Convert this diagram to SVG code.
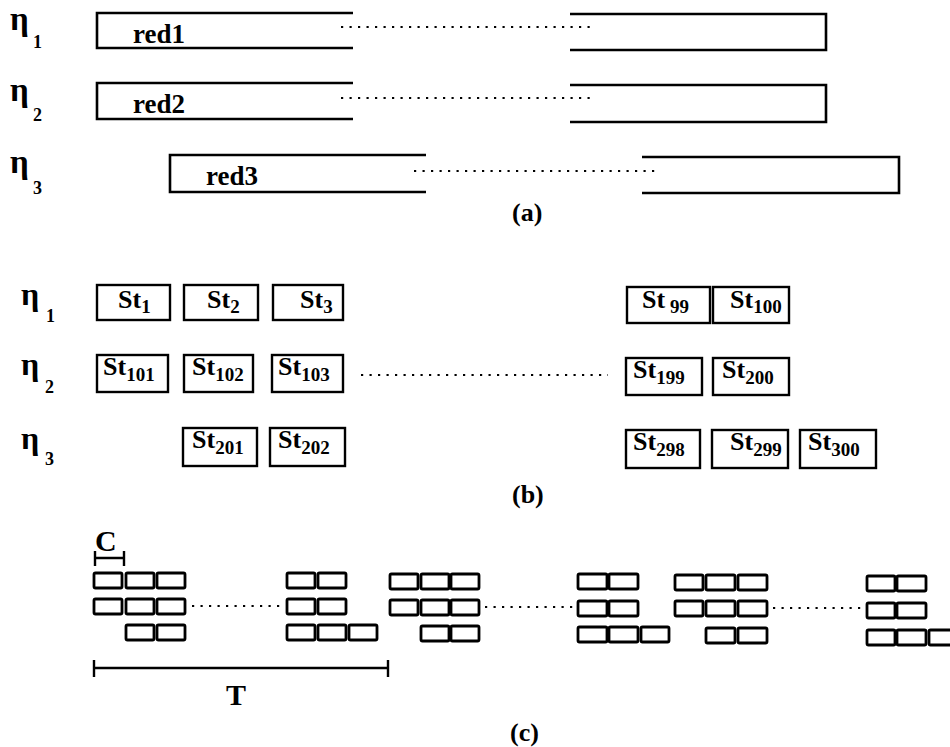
<svg xmlns="http://www.w3.org/2000/svg" width="950" height="747" viewBox="0 0 950 747">
<style>
text{font-family:"Liberation Serif","Times New Roman",serif;fill:#000;font-weight:bold}
.eta{font-size:33px}
.etab{font-size:32px}
.sub{font-size:18px}
.red{font-size:27px}
.st{font-size:26px}
.ss{font-size:19px}
.lbl{font-size:26px}
.big{font-size:30px}
.br{fill:none;stroke:#000;stroke-width:2.6}
.bx{fill:#fff;stroke:#000;stroke-width:2.4}
.cb{fill:#fff;stroke:#000;stroke-width:2.8}
.dot{fill:none;stroke:#000;stroke-width:2.2;stroke-dasharray:2.2 6.3}
.ln{fill:none;stroke:#000;stroke-width:2.4}
</style>
<rect width="950" height="747" fill="#fff"/>

<!-- (a) -->
<g id="a-labels">
<text class="eta" x="10" y="30">η</text><text class="sub" x="33" y="48">1</text>
<text class="eta" x="10" y="101">η</text><text class="sub" x="33" y="121">2</text>
<text class="eta" x="10" y="173">η</text><text class="sub" x="33" y="194">3</text>
</g>
<g id="red1-left"><path class="br" d="M353,13 H97 V48 H353"/><text class="red" x="133" y="43">red1</text></g>
<g id="red1-right"><path class="br" d="M570,14 H826 V50 H570"/></g>
<g id="red2-left"><path class="br" d="M353,83 H97 V119 H353"/><text class="red" x="133" y="113">red2</text></g>
<g id="red2-right"><path class="br" d="M570,85 H826 V122 H570"/></g>
<g id="red3-left"><path class="br" d="M426,155 H170 V192 H426"/><text class="red" x="206" y="185">red3</text></g>
<g id="red3-right"><path class="br" d="M642,157 H899 V193 H642"/></g>
<text class="lbl" x="512" y="221">(a)</text>

<!-- (b) -->
<g id="b-labels">
<text class="etab" x="21" y="305">η</text><text class="sub" x="46" y="322">1</text>
<text class="etab" x="21" y="375">η</text><text class="sub" x="45" y="393">2</text>
<text class="etab" x="21" y="449">η</text><text class="sub" x="45" y="465">3</text>
</g>
<g id="st1"><rect class="bx" x="97" y="285" width="73" height="35"/><text class="st" x="118" y="308">St<tspan class="ss" dy="5">1</tspan></text></g>
<g id="st2"><rect class="bx" x="184" y="285" width="74" height="35"/><text class="st" x="207" y="308">St<tspan class="ss" dy="5">2</tspan></text></g>
<g id="st3"><rect class="bx" x="273" y="285" width="70" height="35"/><text class="st" x="300" y="308">St<tspan class="ss" dy="5">3</tspan></text></g>
<g id="st99"><rect class="bx" x="627" y="287" width="83" height="36"/><text class="st" x="642" y="308">St<tspan class="ss" dy="5"> 99</tspan></text></g>
<g id="st100"><rect class="bx" x="713" y="287" width="76" height="36"/><text class="st" x="730" y="308">St<tspan class="ss" dy="5">100</tspan></text></g>

<g id="st101"><rect class="bx" x="97" y="355" width="71" height="37"/><text class="st" x="103" y="375">St<tspan class="ss" dy="6">101</tspan></text></g>
<g id="st102"><rect class="bx" x="184" y="355" width="69" height="37"/><text class="st" x="192" y="375">St<tspan class="ss" dy="6">102</tspan></text></g>
<g id="st103"><rect class="bx" x="272" y="355" width="71" height="37"/><text class="st" x="278" y="375">St<tspan class="ss" dy="6">103</tspan></text></g>
<g id="st199"><rect class="bx" x="626" y="358" width="76" height="37"/><text class="st" x="633" y="378">St<tspan class="ss" dy="6">199</tspan></text></g>
<g id="st200"><rect class="bx" x="713" y="358" width="76" height="37"/><text class="st" x="722" y="378">St<tspan class="ss" dy="6">200</tspan></text></g>

<g id="st201"><rect class="bx" x="183" y="428" width="74" height="38"/><text class="st" x="192" y="448">St<tspan class="ss" dy="6">201</tspan></text></g>
<g id="st202"><rect class="bx" x="270" y="428" width="75" height="38"/><text class="st" x="278" y="448">St<tspan class="ss" dy="6">202</tspan></text></g>
<g id="st298"><rect class="bx" x="626" y="430" width="74" height="38"/><text class="st" x="633" y="450">St<tspan class="ss" dy="6">298</tspan></text></g>
<g id="st299"><rect class="bx" x="712" y="430" width="76" height="38"/><text class="st" x="730" y="450">St<tspan class="ss" dy="6">299</tspan></text></g>
<g id="st300"><rect class="bx" x="800" y="430" width="76" height="38"/><text class="st" x="808" y="450">St<tspan class="ss" dy="6">300</tspan></text></g>
<text class="lbl" x="512" y="503">(b)</text>

<!-- (c) -->
<g id="c-scale">
<text class="big" x="95" y="551">C</text>
<path class="ln" d="M95,551 V566 M95,558 H124 M124,551 V566"/>
<path class="ln" d="M94,660 V677 M94,668 H388 M388,660 V677"/>
<text class="big" x="226" y="705">T</text>
</g>
<g id="c-group1">
<rect class="cb" x="94" y="573" width="28" height="15" rx="1.5"/><rect class="cb" x="126" y="573" width="28" height="15" rx="1.5"/><rect class="cb" x="157" y="573" width="28" height="15" rx="1.5"/>
<rect class="cb" x="94" y="599" width="28" height="15" rx="1.5"/><rect class="cb" x="126" y="599" width="28" height="15" rx="1.5"/><rect class="cb" x="157" y="599" width="28" height="15" rx="1.5"/>
<rect class="cb" x="126" y="625" width="28" height="15" rx="1.5"/><rect class="cb" x="157" y="625" width="28" height="15" rx="1.5"/>
</g>
<g id="c-group2">
<rect class="cb" x="287" y="573" width="28" height="15" rx="1.5"/><rect class="cb" x="318" y="573" width="28" height="15" rx="1.5"/>
<rect class="cb" x="287" y="599" width="28" height="15" rx="1.5"/><rect class="cb" x="318" y="599" width="28" height="15" rx="1.5"/>
<rect class="cb" x="287" y="625" width="28" height="15" rx="1.5"/><rect class="cb" x="318" y="625" width="28" height="15" rx="1.5"/><rect class="cb" x="349" y="625" width="28" height="15" rx="1.5"/>
</g>
<g id="c-group3">
<rect class="cb" x="390" y="574" width="28" height="15" rx="1.5"/><rect class="cb" x="421" y="574" width="28" height="15" rx="1.5"/><rect class="cb" x="451" y="574" width="28" height="15" rx="1.5"/>
<rect class="cb" x="390" y="600" width="28" height="15" rx="1.5"/><rect class="cb" x="421" y="600" width="28" height="15" rx="1.5"/><rect class="cb" x="451" y="600" width="28" height="15" rx="1.5"/>
<rect class="cb" x="421" y="626" width="28" height="15" rx="1.5"/><rect class="cb" x="451" y="626" width="28" height="15" rx="1.5"/>
</g>
<g id="c-group4">
<rect class="cb" x="578" y="574" width="29" height="15" rx="1.5"/><rect class="cb" x="609" y="574" width="29" height="15" rx="1.5"/>
<rect class="cb" x="578" y="601" width="29" height="15" rx="1.5"/><rect class="cb" x="609" y="601" width="29" height="15" rx="1.5"/>
<rect class="cb" x="578" y="627" width="29" height="15" rx="1.5"/><rect class="cb" x="609" y="627" width="29" height="15" rx="1.5"/><rect class="cb" x="641" y="627" width="28" height="15" rx="1.5"/>
</g>
<g id="c-group5">
<rect class="cb" x="675" y="575" width="28" height="15" rx="1.5"/><rect class="cb" x="706" y="575" width="29" height="15" rx="1.5"/><rect class="cb" x="738" y="575" width="29" height="15" rx="1.5"/>
<rect class="cb" x="675" y="601" width="28" height="15" rx="1.5"/><rect class="cb" x="706" y="601" width="29" height="15" rx="1.5"/><rect class="cb" x="738" y="601" width="29" height="15" rx="1.5"/>
<rect class="cb" x="706" y="628" width="29" height="15" rx="1.5"/><rect class="cb" x="738" y="628" width="29" height="15" rx="1.5"/>
</g>
<g id="c-group6">
<rect class="cb" x="867" y="576" width="28" height="15" rx="1.5"/><rect class="cb" x="897" y="576" width="29" height="15" rx="1.5"/>
<rect class="cb" x="867" y="603" width="28" height="15" rx="1.5"/><rect class="cb" x="897" y="603" width="29" height="15" rx="1.5"/>
<rect class="cb" x="867" y="630" width="28" height="15" rx="1.5"/><rect class="cb" x="897" y="630" width="29" height="15" rx="1.5"/><rect class="cb" x="929" y="630" width="29" height="15" rx="1.5"/>
</g>
<text class="lbl" x="510" y="741">(c)</text>

<g id="connectors">
<path class="dot" d="M341,27 H593"/>
<path class="dot" d="M341,98 H593"/>
<path class="dot" d="M414,171 H658"/>
<path class="dot" d="M361,375 H608"/>
<path class="dot" d="M192,606 H285"/>
<path class="dot" d="M485,607 H576"/>
<path class="dot" d="M773,608 H866"/>
</g>
</svg>
